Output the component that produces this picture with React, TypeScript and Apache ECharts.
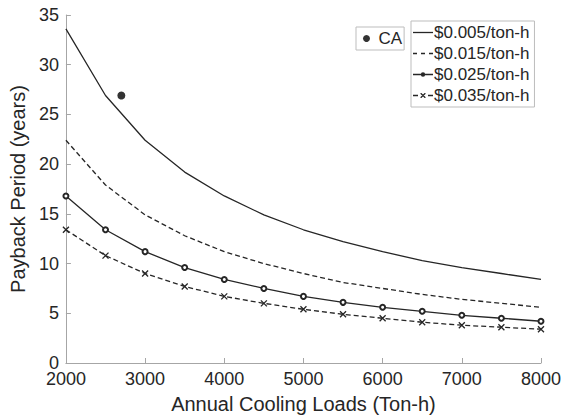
import React, { useEffect, useRef } from "react";
import * as echarts from "echarts";

const loads = [2000, 2500, 3000, 3500, 4000, 4500, 5000, 5500, 6000, 6500, 7000, 7500, 8000];
const s005 = [33.6, 26.9, 22.4, 19.2, 16.8, 14.9, 13.4, 12.2, 11.2, 10.3, 9.6, 9.0, 8.4];
const s015 = [22.4, 17.9, 14.9, 12.8, 11.2, 10.0, 9.0, 8.1, 7.5, 6.9, 6.4, 6.0, 5.6];
const s025 = [16.8, 13.4, 11.2, 9.6, 8.4, 7.5, 6.7, 6.1, 5.6, 5.2, 4.8, 4.5, 4.2];
const s035 = [13.4, 10.8, 9.0, 7.7, 6.7, 6.0, 5.4, 4.9, 4.5, 4.1, 3.8, 3.6, 3.4];
const caPoint = [2700, 26.9];
const seriesNames = ["$0.005/ton-h", "$0.015/ton-h", "$0.025/ton-h", "$0.035/ton-h"];

const FONT = "'Liberation Sans', Arial, Helvetica, sans-serif";
const TXT = "#262626";
const LINE = "#262626";
const AXIS = "#a6a6a6";
const X_MARK = "path://M0,0L10,10M10,0L0,10";

const ICON_SOLID = "path://M0,0h20v1.3h-20z";
const ICON_DASH = "path://M0,0h4v1.3h-4zM8,0h4v1.3h-4zM16,0h4v1.3h-4z";
const ICON_DOT =
  "path://M0,3.35h20v1.3h-20zM12.2,4A2.2,2.2,0,1,1,7.8,4A2.2,2.2,0,1,1,12.2,4Z";
const ICON_X =
  "path://M0,3.35h5v1.3h-5zM15,3.35h5v1.3h-5z" +
  "M7.5,1.5L8.4,1.5L12.5,5.6L12.5,6.5L11.6,6.5L7.5,2.4Z" +
  "M12.5,1.5L12.5,2.4L8.4,6.5L7.5,6.5L7.5,5.6L11.6,1.5Z";
const legendIcons = [ICON_SOLID, ICON_DASH, ICON_DOT, ICON_X];

const pairs = (ys: number[]) => loads.map((x, i) => [x, ys[i]]);

export default function App() {
  const ref = useRef<HTMLDivElement>(null);
  useEffect(() => {
    if (!ref.current) return;
    const chart = echarts.init(ref.current, undefined, { renderer: "svg" });
    chart.setOption({
      animation: false,
      backgroundColor: "#ffffff",
      textStyle: { fontFamily: FONT },
      grid: { left: 64, right: 23, top: 15, bottom: 56, containLabel: false },
      legend: [
        {
          data: [{ name: "CA", icon: "circle", itemStyle: { color: "#000000", borderWidth: 0 } }],
          left: 356,
          top: 27,
          orient: "vertical",
          itemWidth: 14,
          itemHeight: 7,
          itemGap: 4,
          padding: [3, 2, 3, 7],
          borderColor: "#bdbdbd",
          borderWidth: 1,
          textStyle: { color: TXT, fontSize: 17, fontFamily: FONT },
        },
        {
          data: seriesNames.map((n, i) => ({
            name: n,
            icon: legendIcons[i],
            itemStyle: { color: LINE, borderWidth: 0 },
          })),
          left: 411,
          top: 21,
          orient: "vertical",
          itemWidth: 20,
          itemHeight: 8,
          itemGap: 4,
          padding: [3, 5, 3, 2],
          borderColor: "#bdbdbd",
          borderWidth: 1,
          textStyle: { color: TXT, fontSize: 17, fontFamily: FONT, padding: [0, 0, 0, -4] },
        },
      ],
      xAxis: {
        type: "value",
        min: 2000,
        max: 8000,
        interval: 1000,
        name: "Annual Cooling Loads (Ton-h)",
        nameLocation: "middle",
        nameGap: 31,
        nameTextStyle: { color: TXT, fontSize: 20, fontFamily: FONT },
        axisLine: { show: true, lineStyle: { color: AXIS, width: 1 } },
        axisTick: { show: true, inside: true, length: 5, lineStyle: { color: AXIS } },
        axisLabel: {
          color: TXT,
          fontSize: 18,
          fontFamily: FONT,
          margin: 7,
          formatter: (v: number) => String(v),
        },
        splitLine: { show: false },
      },
      yAxis: {
        type: "value",
        min: 0,
        max: 35,
        interval: 5,
        name: "Payback Period (years)",
        nameLocation: "middle",
        nameGap: 28,
        nameTextStyle: { color: TXT, fontSize: 20, fontFamily: FONT },
        axisLine: { show: true, lineStyle: { color: AXIS, width: 1 } },
        axisTick: { show: true, inside: true, length: 5, lineStyle: { color: AXIS } },
        axisLabel: { color: TXT, fontSize: 18, fontFamily: FONT, margin: 7 },
        splitLine: { show: false },
      },
      series: [
        {
          name: "CA",
          type: "scatter",
          data: [caPoint],
          symbol: "circle",
          symbolSize: 8,
          itemStyle: { color: "#000000" },
        },
        {
          name: seriesNames[0],
          type: "line",
          data: pairs(s005),
          symbol: "none",
          lineStyle: { color: LINE, width: 1.3, type: "solid" },
          itemStyle: { color: LINE },
        },
        {
          name: seriesNames[1],
          type: "line",
          data: pairs(s015),
          symbol: "none",
          lineStyle: { color: LINE, width: 1.3, type: [5, 3] },
          itemStyle: { color: LINE },
        },
        {
          name: seriesNames[2],
          type: "line",
          data: pairs(s025),
          symbol: "emptyCircle",
          symbolSize: 5,
          lineStyle: { color: LINE, width: 1.3, type: "solid" },
          itemStyle: { color: LINE, borderColor: LINE, borderWidth: 1.2 },
        },
        {
          name: seriesNames[3],
          type: "line",
          data: pairs(s035),
          symbol: X_MARK,
          symbolSize: 6,
          lineStyle: { color: LINE, width: 1.3, type: [5, 3] },
          itemStyle: { color: LINE, borderColor: LINE, borderWidth: 1.3 },
        },
      ],
    });
    return () => chart.dispose();
  }, []);
  return <div ref={ref} style={{ width: 564, height: 419, position: "absolute", left: 0, top: 0 }} />;
}
